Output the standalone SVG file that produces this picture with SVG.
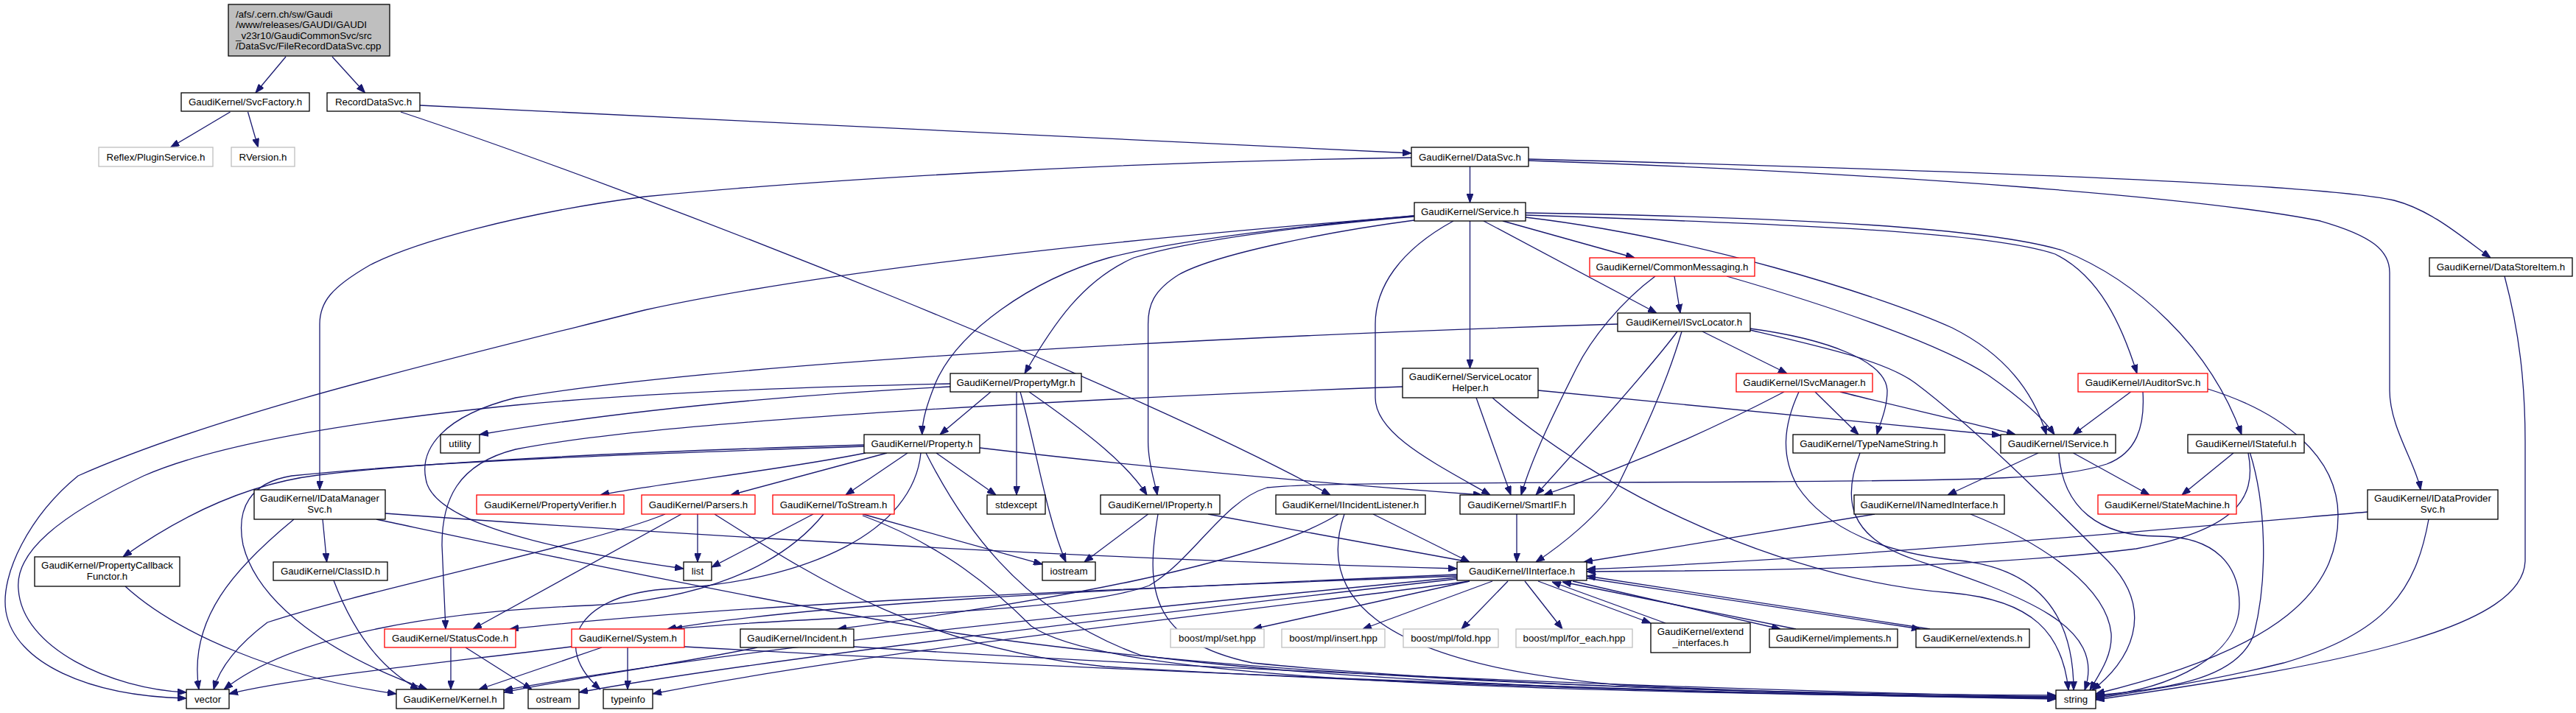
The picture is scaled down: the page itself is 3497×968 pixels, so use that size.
<svg xmlns="http://www.w3.org/2000/svg" width="3497" height="968" viewBox="0 0 3497 968">
<style>
rect{fill:#fff;stroke:#000;stroke-width:1.3}
rect.r{stroke:#f00}
rect.g{stroke:#bfbfbf}
rect.root{fill:#bfbfbf}
text{font-family:"Liberation Sans",Arial,sans-serif;font-size:13.3px;fill:#000;text-anchor:middle}
text.l{text-anchor:start}
#edges path{fill:none;stroke:#191970;stroke-width:1.3;marker-end:url(#a)}
</style>
<defs>
<marker id="a" viewBox="0 0 12 9" refX="12" refY="4.5" markerWidth="12" markerHeight="9" markerUnits="userSpaceOnUse" orient="auto"><path d="M0,0L12,4.5L0,9z" fill="#191970" stroke="#191970" stroke-width="1"/></marker>
</defs>
<g id="edges">
<path d="M388,77L347,126"/>
<path d="M451,77L495.5,126"/>
<path d="M312.5,152L231.6,200"/>
<path d="M336.5,152L350.4,200"/>
<path d="M570,143L1916,208"/>
<path d="M544,152C900,270 1550,530 1806,672"/>
<path d="M1995.5,226L1995.5,275"/>
<path d="M1916,214C1500,220 1100,245 875,267C700,290 560,330 502,360C450,390 434,410 434,440L434,665"/>
<path d="M2075,216C2700,232 3150,250 3250,272C3300,285 3340,320 3381,350"/>
<path d="M2075,218C2600,236 3000,270 3150,300C3220,320 3244,340 3244,370L3244,530C3244,580 3280,630 3286,665"/>
<path d="M1919.6,293C1750,307 1200,350 875,421C600,490 300,560 106,646C40,700 0,780 8,830C20,900 120,945 253,948"/>
<path d="M1919.6,293C1780,305 1600,325 1505,350C1400,380 1300,450 1270,520C1258,550 1252,570 1251.7,590"/>
<path d="M1919.6,294C1780,306 1620,325 1539,350C1470,380 1430,440 1391,507"/>
<path d="M1920,299C1800,315 1650,345 1600,373C1565,395 1558.6,415 1558.6,440L1558.6,600C1558.6,630 1568,655 1571,672"/>
<path d="M1995.5,300L1995.5,500"/>
<path d="M2014,300L2249,425"/>
<path d="M2040,300L2219,350"/>
<path d="M2071,295C2300,322 2550,400 2650,445C2720,480 2760,530 2778,590"/>
<path d="M2344,375C2500,420 2640,470 2700,510C2750,545 2775,570 2789,590"/>
<path d="M2071,292C2450,305 2700,315 2790,345C2850,375 2880,440 2901,507"/>
<path d="M2071,289C2450,295 2700,310 2800,340C2900,380 3000,470 3043,590"/>
<path d="M1973,300C1900,340 1867,390 1867,440L1867,540C1867,590 1950,630 2023,672"/>
<path d="M2273,375L2281,425"/>
<path d="M2247,375C2200,410 2160,460 2140,500C2110,560 2080,620 2065,672"/>
<path d="M2311,450L2426,507"/>
<path d="M2375.6,446C2480,460 2560,490 2562,530C2562,555 2552,575 2548,590"/>
<path d="M2375.6,448C2470,470 2560,490 2600,520C2680,580 2780,680 2860,760C2930,830 2890,900 2840,937"/>
<path d="M2277,450C2240,500 2150,600 2085,672"/>
<path d="M2283,450C2260,530 2220,610 2196,660C2170,700 2120,740 2085,763"/>
<path d="M2196,440C1700,455 1000,490 700,540C600,565 570,610 578,650C585,700 700,740 928,772"/>
<path d="M2464,532L2523,590"/>
<path d="M2498,532C2560,548 2680,575 2736,590"/>
<path d="M2442,532C2420,580 2418,620 2440,660C2480,720 2560,750 2650,760C2780,770 2815,850 2815,937"/>
<path d="M2422,532C2330,580 2220,630 2096,672"/>
<path d="M2525,615C2500,680 2510,730 2600,760C2750,810 2860,850 2830,937"/>
<path d="M1904,525C1500,540 900,570 700,610C620,630 600,680 600,740L605,854"/>
<path d="M2004,540L2051,672"/>
<path d="M2088,530L2716,591"/>
<path d="M2026,540C2200,690 2450,790 2650,805C2760,815 2800,860 2808,937"/>
<path d="M2892.6,532L2814.5,590"/>
<path d="M2997,528C3100,560 3174,620 3174,700C3174,800 3100,880 2845,942"/>
<path d="M2909,532C2912,580 2900,615 2860,630C2800,650 2700,652 2400,654C2000,656 1780,655 1720,662C1660,680 1620,760 1560,795C1450,835 1100,835 914,854"/>
<path d="M3032,615L2962,672"/>
<path d="M3052,615C3065,680 3030,720 2900,745C2700,770 2400,775 2154,776"/>
<path d="M3054.5,615C3075,680 3080,780 3060,860C3040,920 2950,935 2845,944"/>
<path d="M2767,615L2644,672"/>
<path d="M2814.5,615L2918,672"/>
<path d="M2795,615C2800,690 2850,728 2930,728C3010,728 3040,770 3040,820C3040,890 2950,935 2845,946"/>
<path d="M2545,698L2150,763"/>
<path d="M2675,698C2780,740 2860,800 2866,860C2868,890 2850,915 2837,937"/>
<path d="M3214,695C2900,722 2500,758 2154,773"/>
<path d="M3297,705C3280,800 3240,860 3100,900C3000,925 2900,940 2845,948"/>
<path d="M3400,375C3420,450 3428,520 3428,600L3428,760C3428,850 3200,900 2845,950"/>
<path d="M1345,532L1276,590"/>
<path d="M1380,532L1380,672"/>
<path d="M1385,532C1405,600 1420,700 1447,763"/>
<path d="M1397,532C1480,590 1530,630 1557,672"/>
<path d="M1290,525C1000,540 800,565 651,590"/>
<path d="M1290,521C1100,525 875,533 700,550C500,570 300,600 195,646C80,700 20,750 25,800C30,880 150,935 253,940"/>
<path d="M1175,615C1050,640 900,655 815,672"/>
<path d="M1204,615L992,672"/>
<path d="M1232,615L1148,672"/>
<path d="M1271,615L1352,672"/>
<path d="M1257,615C1300,700 1380,830 1550,890C1900,935 2500,945 2791,948"/>
<path d="M1250,615C1240,720 1100,790 900,800C780,810 750,880 815,936"/>
<path d="M1173,606C900,615 600,625 396,646C340,655 320,690 330,740C350,820 450,890 580,936"/>
<path d="M1173,604C900,612 600,625 432,645C350,655 260,690 167,756"/>
<path d="M1330,608C1600,640 1850,660 2012,672"/>
<path d="M947,698L947,763"/>
<path d="M903,698C800,740 500,800 363,845C330,870 300,900 290,936"/>
<path d="M925,698L642,854"/>
<path d="M970,698C1100,780 1250,880 1500,905C2000,935 2500,945 2791,946"/>
<path d="M1104,698L966,770"/>
<path d="M1171,698L1415,766"/>
<path d="M1171,700C1280,740 1350,800 1400,850C1500,920 2000,940 2791,947"/>
<path d="M1118,698C1060,770 950,815 800,822C600,830 400,860 304,936"/>
<path d="M438,705L443.6,763"/>
<path d="M399,705C320,770 255,840 270,936"/>
<path d="M523,697C900,725 1500,760 1978,772"/>
<path d="M511,705C700,745 1000,810 1300,860C1700,920 2300,942 2791,944"/>
<path d="M170,796C240,860 380,920 538,942"/>
<path d="M453,788C480,860 520,910 569,936"/>
<path d="M612,879L612,936"/>
<path d="M632,879L722,936"/>
<path d="M776,878C600,900 400,920 311,942"/>
<path d="M817,879L650,936"/>
<path d="M852,879L852,936"/>
<path d="M929,878C1500,910 2200,940 2791,949"/>
<path d="M1028,879C900,905 780,920 684,940"/>
<path d="M1159,878C1500,900 2200,935 2791,946"/>
<path d="M1817,698C1700,770 1400,820 1137,854"/>
<path d="M1825,698C1790,800 1850,900 2200,930C2500,945 2700,946 2791,948"/>
<path d="M1864,698L1995,763"/>
<path d="M1558.6,698L1472,763"/>
<path d="M1640,698L1995,763"/>
<path d="M1572,698C1555,800 1560,870 1700,900C2000,930 2500,945 2791,946"/>
<path d="M2059,698L2059,763"/>
<path d="M1995,789L1701,854"/>
<path d="M2026,789L1850,854"/>
<path d="M2047,789L1984,854"/>
<path d="M2070,789L2121,854"/>
<path d="M2088,789L2241,846"/>
<path d="M2261,846L2107,790"/>
<path d="M2135,789L2417,854"/>
<path d="M2438,854L2121,790"/>
<path d="M2154,785L2607,854"/>
<path d="M2620,854L2154,782"/>
<path d="M1978,780C1500,800 1100,820 906,854"/>
<path d="M1978,782C1500,800 1000,820 692,854"/>
<path d="M1978,784C1500,830 1000,880 684,937"/>
<path d="M1978,786C1500,840 1000,900 786,940"/>
<path d="M1995,789C1700,830 1200,880 886,942"/>
</g>
<g id="n_root"><rect class="root" x="310" y="6" width="219" height="70"/><text class="l" x="320" y="24">/afs/.cern.ch/sw/Gaudi</text><text class="l" x="320" y="38">/www/releases/GAUDI/GAUDI</text><text class="l" x="320" y="53">_v23r10/GaudiCommonSvc/src</text><text class="l" x="320" y="67">/DataSvc/FileRecordDataSvc.cpp</text></g>
<g id="n_svcfactory"><rect x="246" y="126" width="174" height="25"/><text x="333" y="143">GaudiKernel/SvcFactory.h</text></g>
<g id="n_recorddatasvc"><rect x="444" y="126" width="126" height="25"/><text x="507" y="143">RecordDataSvc.h</text></g>
<g id="n_pluginservice"><rect class="g" x="134" y="200" width="155" height="26"/><text x="211.5" y="218">Reflex/PluginService.h</text></g>
<g id="n_rversion"><rect class="g" x="314" y="200" width="86" height="26"/><text x="357" y="218">RVersion.h</text></g>
<g id="n_datasvc"><rect x="1916" y="200" width="159" height="26"/><text x="1995.5" y="218">GaudiKernel/DataSvc.h</text></g>
<g id="n_service"><rect x="1920" y="275" width="151" height="25"/><text x="1995.5" y="292">GaudiKernel/Service.h</text></g>
<g id="n_commonmessaging"><rect class="r" x="2158" y="350" width="224" height="25"/><text x="2270" y="367">GaudiKernel/CommonMessaging.h</text></g>
<g id="n_datastoreitem"><rect x="3298" y="350" width="194" height="25"/><text x="3395" y="367">GaudiKernel/DataStoreItem.h</text></g>
<g id="n_isvclocator"><rect x="2196" y="425" width="180" height="25"/><text x="2286" y="442">GaudiKernel/ISvcLocator.h</text></g>
<g id="n_propertymgr"><rect x="1290" y="507" width="178" height="25"/><text x="1379" y="524">GaudiKernel/PropertyMgr.h</text></g>
<g id="n_servicelocatorhelper"><rect x="1904" y="500" width="184" height="40"/><text x="1996" y="516">GaudiKernel/ServiceLocator</text><text x="1996" y="531">Helper.h</text></g>
<g id="n_isvcmanager"><rect class="r" x="2357" y="507" width="185" height="25"/><text x="2449.5" y="524">GaudiKernel/ISvcManager.h</text></g>
<g id="n_iauditorsvc"><rect class="r" x="2821" y="507" width="176" height="25"/><text x="2909" y="524">GaudiKernel/IAuditorSvc.h</text></g>
<g id="n_utility"><rect x="598" y="590" width="53" height="25"/><text x="624.5" y="607">utility</text></g>
<g id="n_property"><rect x="1173" y="590" width="157" height="25"/><text x="1251.5" y="607">GaudiKernel/Property.h</text></g>
<g id="n_typenamestring"><rect x="2434" y="590" width="206" height="25"/><text x="2537" y="607">GaudiKernel/TypeNameString.h</text></g>
<g id="n_iservice"><rect x="2716" y="590" width="156" height="25"/><text x="2794" y="607">GaudiKernel/IService.h</text></g>
<g id="n_istateful"><rect x="2970" y="590" width="158" height="25"/><text x="3049" y="607">GaudiKernel/IStateful.h</text></g>
<g id="n_idatamanagersvc"><rect x="345" y="665" width="178" height="40"/><text x="434" y="681">GaudiKernel/IDataManager</text><text x="434" y="696">Svc.h</text></g>
<g id="n_propertyverifier"><rect class="r" x="647" y="672" width="200" height="26"/><text x="747" y="690">GaudiKernel/PropertyVerifier.h</text></g>
<g id="n_parsers"><rect class="r" x="871" y="672" width="154" height="26"/><text x="948" y="690">GaudiKernel/Parsers.h</text></g>
<g id="n_tostream"><rect class="r" x="1049" y="672" width="165" height="26"/><text x="1131.5" y="690">GaudiKernel/ToStream.h</text></g>
<g id="n_stdexcept"><rect x="1340" y="672" width="79" height="26"/><text x="1379.5" y="690">stdexcept</text></g>
<g id="n_iproperty"><rect x="1494" y="672" width="162" height="26"/><text x="1575" y="690">GaudiKernel/IProperty.h</text></g>
<g id="n_iincidentlistener"><rect x="1732" y="672" width="203" height="26"/><text x="1833.5" y="690">GaudiKernel/IIncidentListener.h</text></g>
<g id="n_smartif"><rect x="1982" y="672" width="155" height="26"/><text x="2059.5" y="690">GaudiKernel/SmartIF.h</text></g>
<g id="n_inamedinterface"><rect x="2517" y="672" width="204" height="26"/><text x="2619" y="690">GaudiKernel/INamedInterface.h</text></g>
<g id="n_statemachine"><rect class="r" x="2848" y="672" width="188" height="26"/><text x="2942" y="690">GaudiKernel/StateMachine.h</text></g>
<g id="n_idataprovidersvc"><rect x="3214" y="665" width="177" height="40"/><text x="3302.5" y="681">GaudiKernel/IDataProvider</text><text x="3302.5" y="696">Svc.h</text></g>
<g id="n_propertycallbackfunctor"><rect x="47" y="756" width="197" height="40"/><text x="145.5" y="772">GaudiKernel/PropertyCallback</text><text x="145.5" y="787">Functor.h</text></g>
<g id="n_classid"><rect x="371" y="763" width="155" height="25"/><text x="448.5" y="780">GaudiKernel/ClassID.h</text></g>
<g id="n_list"><rect x="928" y="763" width="38" height="25"/><text x="947" y="780">list</text></g>
<g id="n_iostream"><rect x="1415" y="763" width="72" height="25"/><text x="1451" y="780">iostream</text></g>
<g id="n_iinterface"><rect x="1978" y="763" width="176" height="25"/><text x="2066" y="780">GaudiKernel/IInterface.h</text></g>
<g id="n_statuscode"><rect class="r" x="522" y="854" width="178" height="25"/><text x="611" y="871">GaudiKernel/StatusCode.h</text></g>
<g id="n_system"><rect class="r" x="776" y="854" width="153" height="25"/><text x="852.5" y="871">GaudiKernel/System.h</text></g>
<g id="n_incident"><rect x="1005" y="854" width="154" height="25"/><text x="1082" y="871">GaudiKernel/Incident.h</text></g>
<g id="n_set"><rect class="g" x="1589" y="854" width="127" height="25"/><text x="1652.5" y="871">boost/mpl/set.hpp</text></g>
<g id="n_insert"><rect class="g" x="1740" y="854" width="140" height="25"/><text x="1810" y="871">boost/mpl/insert.hpp</text></g>
<g id="n_fold"><rect class="g" x="1905" y="854" width="129" height="25"/><text x="1969.5" y="871">boost/mpl/fold.hpp</text></g>
<g id="n_foreach"><rect class="g" x="2058" y="854" width="158" height="25"/><text x="2137" y="871">boost/mpl/for_each.hpp</text></g>
<g id="n_extendinterfaces"><rect x="2241" y="846" width="135" height="40"/><text x="2308.5" y="862">GaudiKernel/extend</text><text x="2308.5" y="877">_interfaces.h</text></g>
<g id="n_implements"><rect x="2402" y="854" width="174" height="25"/><text x="2489" y="871">GaudiKernel/implements.h</text></g>
<g id="n_extends"><rect x="2601" y="854" width="154" height="25"/><text x="2678" y="871">GaudiKernel/extends.h</text></g>
<g id="n_vector"><rect x="253" y="936" width="58" height="26"/><text x="282" y="954">vector</text></g>
<g id="n_kernel"><rect x="538" y="936" width="146" height="26"/><text x="611" y="954">GaudiKernel/Kernel.h</text></g>
<g id="n_ostream"><rect x="717" y="936" width="69" height="26"/><text x="751.5" y="954">ostream</text></g>
<g id="n_typeinfo"><rect x="819" y="936" width="67" height="26"/><text x="852.5" y="954">typeinfo</text></g>
<g id="n_string"><rect x="2791" y="937" width="54" height="25"/><text x="2818" y="954">string</text></g>
</svg>
